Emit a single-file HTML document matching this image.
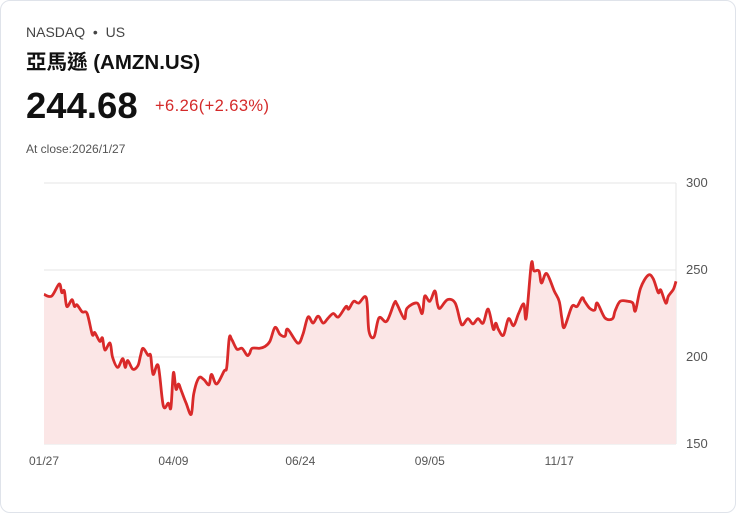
<!DOCTYPE html>
<html><head><meta charset="utf-8"><style>
body{margin:0;background:#fff;font-family:"Liberation Sans","Noto Sans CJK TC",sans-serif;}
.card{position:absolute;left:0;top:0;width:734px;height:511px;border:1px solid #dfe3ea;border-radius:10px;background:#fff;}
.t{position:absolute;white-space:nowrap;}
</style></head><body>
<div class="card">
<div class="t" style="left:25px;top:23px;font-size:14px;color:#444;">NASDAQ &nbsp;•&nbsp; US</div>
<div class="t" style="left:25px;top:44px;font-size:20.5px;font-weight:bold;color:#111;">亞馬遜 (AMZN.US)</div>
<div class="t" style="left:25px;top:84px;font-size:36.5px;font-weight:bold;color:#111;">244.68</div>
<div class="t" style="left:154px;top:96px;font-size:16.5px;color:#d42a2a;letter-spacing:0.4px;">+6.26(+2.63%)</div>
<div class="t" style="left:25px;top:141px;font-size:12px;color:#555;">At close:2026/1/27</div>
<svg id="chart" width="736" height="513" style="position:absolute;left:-1px;top:-1px"></svg>
</div>
<script>
const days=[0,3,6,7,8,9,11,12,13,15,17,19,20,22,23,24,26,27,29,31,32,33,35,37,38,39,41,42,43,45,47,49,50,51,52,53,54,56,58,59,61,63,65,66,68,71,72,73,74,76,78,80,81,82,85,87,89,91,93,95,96,100,102,104,106,108,110,112,114,116,119,120,122,124,127,128,130,132,135,138,139,142,143,147,149,150,152,154,155,156,159,162,164,165,167,169,171,173,175,177,178,179,181,183,185,187,189,190,192,193,195,196,198,201,203,204,205,208,210,212,213,215,217,218,221,224,225,227,230,232,233,235,238,240,242,243,245,246,248,249];
const prices=[236,235,242,237,238,229,233,229,230,226,225,213,214,209,211,204,208,200,194,199,194,198,193,195,200.5,205,201,201,190,195,172,173.5,171,191,181.5,184.5,181,173.5,167,179,188,187,184,190,184.5,192,194,211,210,204.5,205,201,202,205,205,206,209,217,213,212,216,208,213,223,219.5,223.5,219.5,222.5,225,223,229,227.5,232,231,234,215,211.5,222.5,220.5,231,230.5,222,228,231,225,235,232,238,230.5,228,233,231,220.5,218.5,222,219,222,219.5,227.5,216,219.5,216,212.5,222,218,225,230.5,222.5,253.5,249.5,249.5,242.5,248,238,232,222.5,217,229,229,234,232,228,227,231,222.5,222,226.5,232,232,231,226.5,239.5,247,245,237,238.5,231,235,239,243.5,244.68];
const yTicks=[150,200,250,300];
const xLabels=["01/27","04/09","06/24","09/05","11/17"];
const xLabelDays=[0,51,101,152,203];
const X0=44,X1=676,Y0=444,Y1=183,DMAX=249;
const x=d=>X0+d/DMAX*(X1-X0);
const y=v=>Y0-(v-150)/150*(Y0-Y1);
const svg=document.getElementById('chart');const NS='http://www.w3.org/2000/svg';
function mk(t,a){const e=document.createElementNS(NS,t);for(const k in a)e.setAttribute(k,a[k]);svg.appendChild(e);return e;}
yTicks.forEach(v=>{const l=mk('line',{x1:X0,x2:X1,y1:y(v),y2:y(v),stroke:'#e6e6e6','stroke-width':1});


const t=mk('text',{x:X1+10,y:y(v)+4,'font-size':13,fill:'#555','font-family':'Liberation Sans'});t.textContent=v;

});
const ax=mk('line',{x1:X1,x2:X1,y1:Y1,y2:Y0,stroke:'#e6e6e6'});


const P=days.map((dd,i)=>[x(dd),y(prices[i])]);
let d='M'+P[0][0].toFixed(1)+','+P[0][1].toFixed(1);
for(let i=0;i<P.length-1;i++){const p0=P[Math.max(0,i-1)],p1=P[i],p2=P[i+1],p3=P[Math.min(P.length-1,i+2)];
const c1=[p1[0]+(p2[0]-p0[0])/6,p1[1]+(p2[1]-p0[1])/6],c2=[p2[0]-(p3[0]-p1[0])/6,p2[1]-(p3[1]-p1[1])/6];
d+='C'+c1[0].toFixed(1)+','+c1[1].toFixed(1)+' '+c2[0].toFixed(1)+','+c2[1].toFixed(1)+' '+p2[0].toFixed(1)+','+p2[1].toFixed(1);}
const area=mk('path',{d:d+'L'+x(days[days.length-1])+','+Y0+'L'+x(0)+','+Y0+'Z',fill:'#fbe6e6'});


const line=mk('path',{d:d,fill:'none',stroke:'#d92a2a','stroke-width':2.8,'stroke-linejoin':'round'});


xLabels.forEach((s,i)=>{const t=mk('text',{x:x(xLabelDays[i]),y:465,'font-size':12,fill:'#555','text-anchor':'middle','font-family':'Liberation Sans'});t.textContent=s;

});
</script>
</body></html>
